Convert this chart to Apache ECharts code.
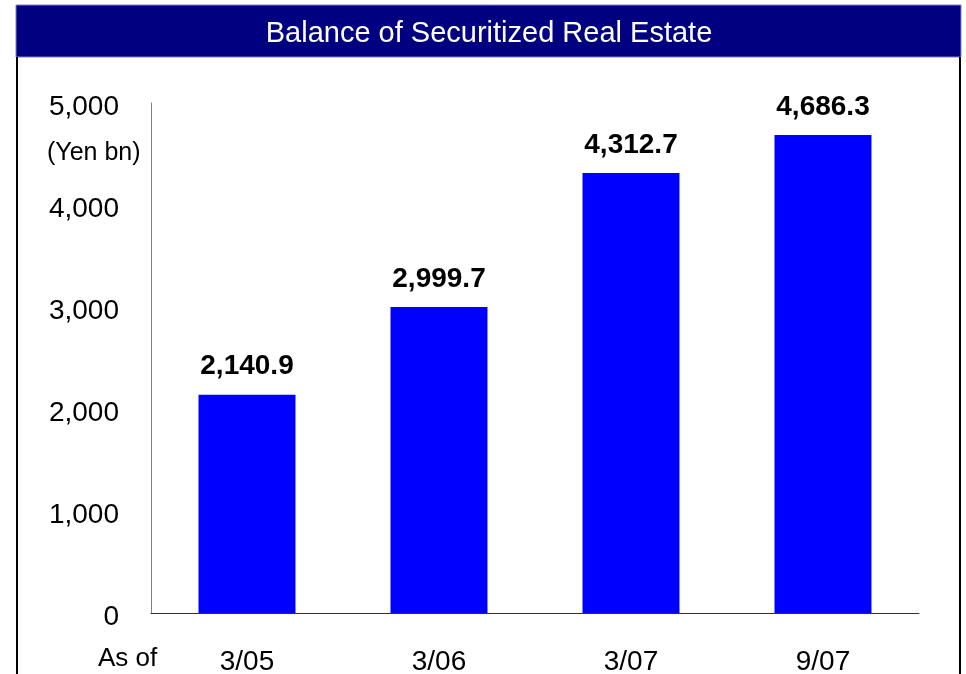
<!DOCTYPE html>
<html>
<head>
<meta charset="utf-8">
<script src="https://cdn.jsdelivr.net/npm/echarts@6/dist/echarts.min.js"></script>
<style>
html,body{margin:0;padding:0;background:#fff;}
#c{width:966px;height:674px;}
</style>
</head>
<body>
<div id="c"></div>
<script>
const categories = ['3/05', '3/06', '3/07', '9/07'];
const balance = [2140.9, 2999.7, 4312.7, 4686.3];
const yTicks = [0, 1000, 2000, 3000, 4000, 5000];
const titleText = 'Balance of Securitized Real Estate';
const unitText = '(Yen bn)';
const asOfText = 'As of';

const FONT = '"Liberation Sans", Arial, sans-serif';
const chart = echarts.init(document.getElementById('c'), null, {renderer: 'canvas'});
chart.setOption({
  animation: false,
  backgroundColor: '#ffffff',
  grid: [
    {left: 151, right: 47, top: 103, bottom: 61, containLabel: false, outerBoundsMode: 'none'},
    // label grid: same scale, shifted down a few px so tick labels sit like the reference
    {left: 151, right: 47, top: 107, bottom: 57, containLabel: false, outerBoundsMode: 'none'}
  ],
  xAxis: [
    {
      type: 'category',
      gridIndex: 0,
      data: categories,
      axisLine: {show: true, lineStyle: {color: '#333333', width: 1}},
      axisTick: {show: false},
      axisLabel: {color: '#000', fontFamily: FONT, fontSize: 28, margin: 35}
    },
    {type: 'category', gridIndex: 1, data: categories, show: false}
  ],
  yAxis: [
    {
      type: 'value',
      gridIndex: 0,
      min: yTicks[0],
      max: yTicks[yTicks.length - 1],
      interval: 1000,
      axisLine: {show: true, lineStyle: {color: '#808080', width: 1}},
      axisTick: {show: false},
      splitLine: {show: false},
      axisLabel: {show: false}
    },
    {
      type: 'value',
      gridIndex: 1,
      min: yTicks[0],
      max: yTicks[yTicks.length - 1],
      interval: 1000,
      axisLine: {show: false},
      axisTick: {show: false},
      splitLine: {show: false},
      axisLabel: {
        color: '#000', fontFamily: FONT, fontSize: 28, margin: 32,
        formatter: v => v.toLocaleString('en-US')
      }
    }
  ],
  series: [{
    type: 'bar',
    xAxisIndex: 0,
    yAxisIndex: 0,
    data: balance,
    barWidth: '50.5%',
    itemStyle: {color: '#0000FF'},
    label: {
      show: true, position: 'top', distance: 14,
      color: '#000', fontFamily: FONT, fontSize: 28, fontWeight: 'bold',
      formatter: p => p.value.toLocaleString('en-US', {minimumFractionDigits: 1, maximumFractionDigits: 1})
    }
  }],
  graphic: [
    {type: 'rect', shape: {x: 16, y: 5, width: 945, height: 52}, style: {fill: '#000080', stroke: '#8080c0', lineWidth: 1}, z: 10},
    {type: 'text', x: 489, y: 34, style: {text: titleText, fill: '#fff', font: '29px ' + FONT, align: 'center', verticalAlign: 'middle'}, z: 11},
    {type: 'line', shape: {x1: 17, y1: 57, x2: 17, y2: 674}, style: {stroke: '#000', lineWidth: 2}, z: 10},
    {type: 'line', shape: {x1: 960, y1: 57, x2: 960, y2: 674}, style: {stroke: '#000', lineWidth: 2}, z: 10},
    {type: 'text', x: 47, y: 153, style: {text: unitText, fill: '#000', font: '25px ' + FONT, align: 'left', verticalAlign: 'middle'}, z: 11},
    {type: 'text', x: 98, y: 659, style: {text: asOfText, fill: '#000', font: '26px ' + FONT, align: 'left', verticalAlign: 'middle'}, z: 11}
  ]
});
</script>
</body>
</html>
